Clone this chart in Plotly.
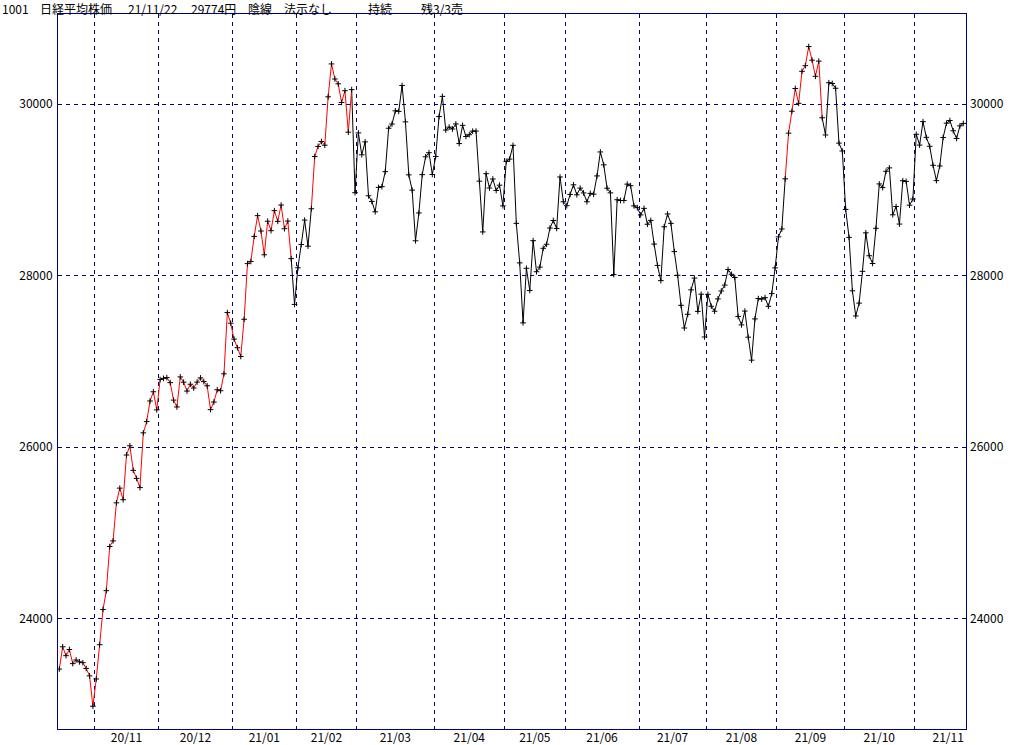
import pandas as pd
import plotly.graph_objects as go

# ---------------- data (Nikkei 225 daily closes) ----------------
close_2020_10 = [23410.63, 23671.13, 23567.04, 23639.46, 23474.27, 23516.59, 23494.34, 23485.80, 23418.51, 23331.94, 22977.13]
close_2020_11 = [23295.48, 23695.23, 24105.28, 24325.23, 24839.84, 24905.59, 25349.60, 25520.88, 25385.87, 25906.93,
                 26014.62, 25728.14, 25634.34, 25527.37, 26165.59, 26296.86, 26537.31, 26644.71, 26433.62]
close_2020_12 = [26787.54, 26800.98, 26809.37, 26751.24, 26547.44, 26467.08, 26817.94, 26756.24, 26652.52, 26732.44,
                 26687.84, 26757.40, 26806.67, 26763.39, 26714.42, 26436.39, 26524.79, 26668.35, 26656.61, 26854.03,
                 27568.15, 27444.17]
close_2021_01 = [27258.38, 27158.63, 27055.94, 27490.13, 28139.03, 28164.34, 28456.59, 28698.26, 28519.18, 28242.21,
                 28633.46, 28523.26, 28756.86, 28631.45, 28822.29, 28546.18, 28635.21, 28197.42, 27663.39]
close_2021_02 = [28091.05, 28362.17, 28646.50, 28341.95, 28779.19, 29388.50, 29505.93, 29562.93, 29520.07, 30084.15,
                 30467.75, 30292.19, 30236.09, 30017.92, 30156.03, 29671.70, 30168.27, 28966.01]
close_2021_03 = [29663.50, 29408.17, 29559.10, 28930.11, 28864.32, 28743.25, 29027.94, 29036.56, 29211.64, 29717.83,
                 29766.97, 29921.09, 29914.33, 30216.75, 29792.05, 29174.15, 28995.92, 28405.52, 28729.88, 29176.70,
                 29384.52, 29432.70, 29178.80]
close_2021_04 = [29388.87, 29854.00, 30089.25, 29696.63, 29730.79, 29708.98, 29768.06, 29538.73, 29751.61, 29620.99,
                 29642.69, 29683.37, 29685.37, 29100.38, 28508.55, 29188.17, 29020.63, 29126.23, 28991.89, 29053.97,
                 28812.63]
close_2021_05 = [29331.37, 29357.82, 29518.34, 28608.59, 28147.51, 27448.01, 28084.47, 27824.83, 28406.84, 28044.45,
                 28098.25, 28317.83, 28364.61, 28553.98, 28642.19, 28549.01, 29149.41, 28860.08]
close_2021_06 = [28814.34, 28946.14, 29058.11, 28941.52, 29019.24, 28963.56, 28860.80, 28958.56, 28948.73, 29161.80,
                 29441.30, 29291.01, 29018.33, 28964.08, 28010.93, 28884.13, 28874.89, 28875.23, 29066.18, 29048.02,
                 28812.61, 28791.53]
close_2021_07 = [28707.04, 28783.28, 28598.19, 28643.21, 28366.95, 28118.03, 27940.42, 28569.02, 28718.24, 28608.49,
                 28279.09, 28003.08, 27652.74, 27388.16, 27548.00, 27833.29, 27970.22, 27581.66, 27782.42, 27283.59]
close_2021_08 = [27781.02, 27641.83, 27584.08, 27728.12, 27820.04, 27888.15, 28070.51, 28015.02, 27977.15, 27523.19,
                 27424.47, 27585.91, 27281.17, 27013.25, 27494.24, 27732.10, 27724.80, 27742.29, 27641.14, 27789.29,
                 28089.54]
close_2021_09 = [28451.02, 28543.51, 29128.11, 29659.89, 29916.14, 30181.21, 30008.19, 30381.84, 30447.37, 30670.10,
                 30511.71, 30323.34, 30500.05, 29839.71, 29639.40, 30248.81, 30240.06, 30183.96, 29544.29, 29452.66]
close_2021_10 = [28771.07, 28444.89, 27822.12, 27528.87, 27678.21, 28048.94, 28498.20, 28230.61, 28140.28, 28550.93,
                 29068.63, 29025.46, 29215.52, 29255.55, 28708.58, 28804.85, 28600.41, 29106.01, 29098.24, 28820.09,
                 28892.69]
close_2021_11 = [29647.08, 29520.90, 29794.37, 29611.57, 29507.05, 29285.46, 29106.78, 29277.86, 29609.97, 29776.80,
                 29808.12, 29688.33, 29598.66, 29745.87, 29774.11]

first_date = "2020-10-16"
last_date = "2021-11-22"
market_holidays = ["2020-11-03", "2020-11-23", "2020-12-31", "2021-01-01", "2021-01-11", "2021-02-11",
                   "2021-02-23", "2021-04-29", "2021-05-03", "2021-05-04", "2021-05-05", "2021-07-22",
                   "2021-07-23", "2021-08-09", "2021-09-20", "2021-09-23", "2021-11-03"]
last_month_trading_days = 20  # full trading days in Nov 2021 (for label centring)

# line segments drawn in red, given by the date at which each segment ends
red_periods = [("2020-10-16", "2021-01-28"), ("2021-02-08", "2021-02-25"), ("2021-09-06", "2021-09-21")]

y_ticks = [24000, 26000, 28000, 30000]

title_parts = ["1001", "日経平均株価", "21/11/22", "29774円", "陰線", "法示なし", "持続", "残3/3売"]

# ---------------- build ----------------
closes = (close_2020_10 + close_2020_11 + close_2020_12 + close_2021_01 + close_2021_02 + close_2021_03 +
          close_2021_04 + close_2021_05 + close_2021_06 + close_2021_07 + close_2021_08 + close_2021_09 +
          close_2021_10 + close_2021_11)
days = pd.bdate_range(first_date, last_date)
days = days[~days.isin(pd.to_datetime(market_holidays))]
assert len(days) == len(closes), (len(days), len(closes))
n = len(closes)
xs = list(range(n))

red_end = [any(pd.Timestamp(a) <= d <= pd.Timestamp(b) for a, b in red_periods) for d in days]

red_x, red_y, blk_x, blk_y = [], [], [], []
for i in range(n - 1):
    tx, ty = (red_x, red_y) if red_end[i + 1] else (blk_x, blk_y)
    tx += [xs[i], xs[i + 1], None]
    ty += [closes[i], closes[i + 1], None]

# month boundaries / labels
months = [d.strftime("%y/%m") for d in days]
bounds, labels = [], []
for i in range(1, n):
    if months[i] != months[i - 1]:
        bounds.append(i - 0.5)
        labels.append(months[i])
label_pos = []
for k, b in enumerate(bounds):
    nb = bounds[k + 1] if k + 1 < len(bounds) else b + last_month_trading_days
    label_pos.append((b + nb) / 2)

# ---------------- figure ----------------
W, H = 1024, 745
ML, MR, MT, MB = 58, 58, 14, 16
PW, PH = W - ML - MR, H - MT - MB
NAVY = "#000080"
FONT = "Noto Sans CJK JP"

step = 3.3606
x_lo = -(59.3 - ML) / step
x_hi = x_lo + PW / step
y_lo, y_hi = 22712, 31050

fig = go.Figure()
fig.add_trace(go.Scatter(x=blk_x, y=blk_y, mode="lines", line=dict(color="black", width=1),
                         hoverinfo="skip", showlegend=False))
fig.add_trace(go.Scatter(x=red_x, y=red_y, mode="lines", line=dict(color="#ff0000", width=1),
                         hoverinfo="skip", showlegend=False))
fig.add_trace(go.Scatter(x=xs, y=closes, mode="markers",
                         marker=dict(symbol="cross-thin", size=4, line=dict(color="black", width=1)),
                         showlegend=False))
# helper traces to activate secondary axes
fig.add_trace(go.Scatter(x=label_pos, y=[None] * len(label_pos), xaxis="x2", yaxis="y",
                         mode="markers", showlegend=False, hoverinfo="skip"))
fig.add_trace(go.Scatter(x=[None], y=y_ticks, xaxis="x", yaxis="y2",
                         mode="markers", showlegend=False, hoverinfo="skip"))

tickfont = dict(family=FONT, size=12, color="black")
fig.update_layout(
    width=W, height=H,
    margin=dict(l=ML, r=MR, t=MT, b=MB, pad=0, autoexpand=False),
    paper_bgcolor="white", plot_bgcolor="white",
    showlegend=False,
    xaxis=dict(range=[x_lo, x_hi], tickvals=bounds, showticklabels=False, ticks="",
               showgrid=True, gridcolor=NAVY, gridwidth=1, griddash="4px,4px", automargin=False,
               showline=True, linecolor=NAVY, linewidth=1, mirror=True, zeroline=False),
    xaxis2=dict(range=[x_lo, x_hi], overlaying="x", anchor="y", side="bottom", automargin=False,
                tickvals=label_pos, ticktext=labels, ticks="", showgrid=False, zeroline=False,
                tickfont=tickfont, ticklabelstandoff=0),
    yaxis=dict(range=[y_lo, y_hi], tickvals=y_ticks, ticktext=[str(v) for v in y_ticks], automargin=False,
               ticks="", showgrid=True, gridcolor=NAVY, gridwidth=1, griddash="4px,4px",
               showline=True, linecolor=NAVY, linewidth=1, mirror=True, zeroline=False,
               tickfont=tickfont, ticklabelstandoff=2),
    yaxis2=dict(range=[y_lo, y_hi], overlaying="y", anchor="x", side="right", automargin=False,
                tickvals=y_ticks, ticktext=[str(v) for v in y_ticks], ticks="",
                showgrid=False, zeroline=False, tickfont=tickfont, ticklabelstandoff=3),
)

title_px = [1, 39, 127, 190, 247, 283, 367, 420]
for txt, px in zip(title_parts, title_px):
    fig.add_annotation(text=txt, xref="paper", yref="paper",
                       x=(px - ML) / PW, y=1 + (MT - 8.5) / PH,
                       xanchor="left", yanchor="middle", showarrow=False,
                       font=dict(family=FONT, size=12, color="black"), borderpad=0)

fig.write_html("out.html", config={"displayModeBar": False},
               post_script="document.body.style.margin='0px';")
